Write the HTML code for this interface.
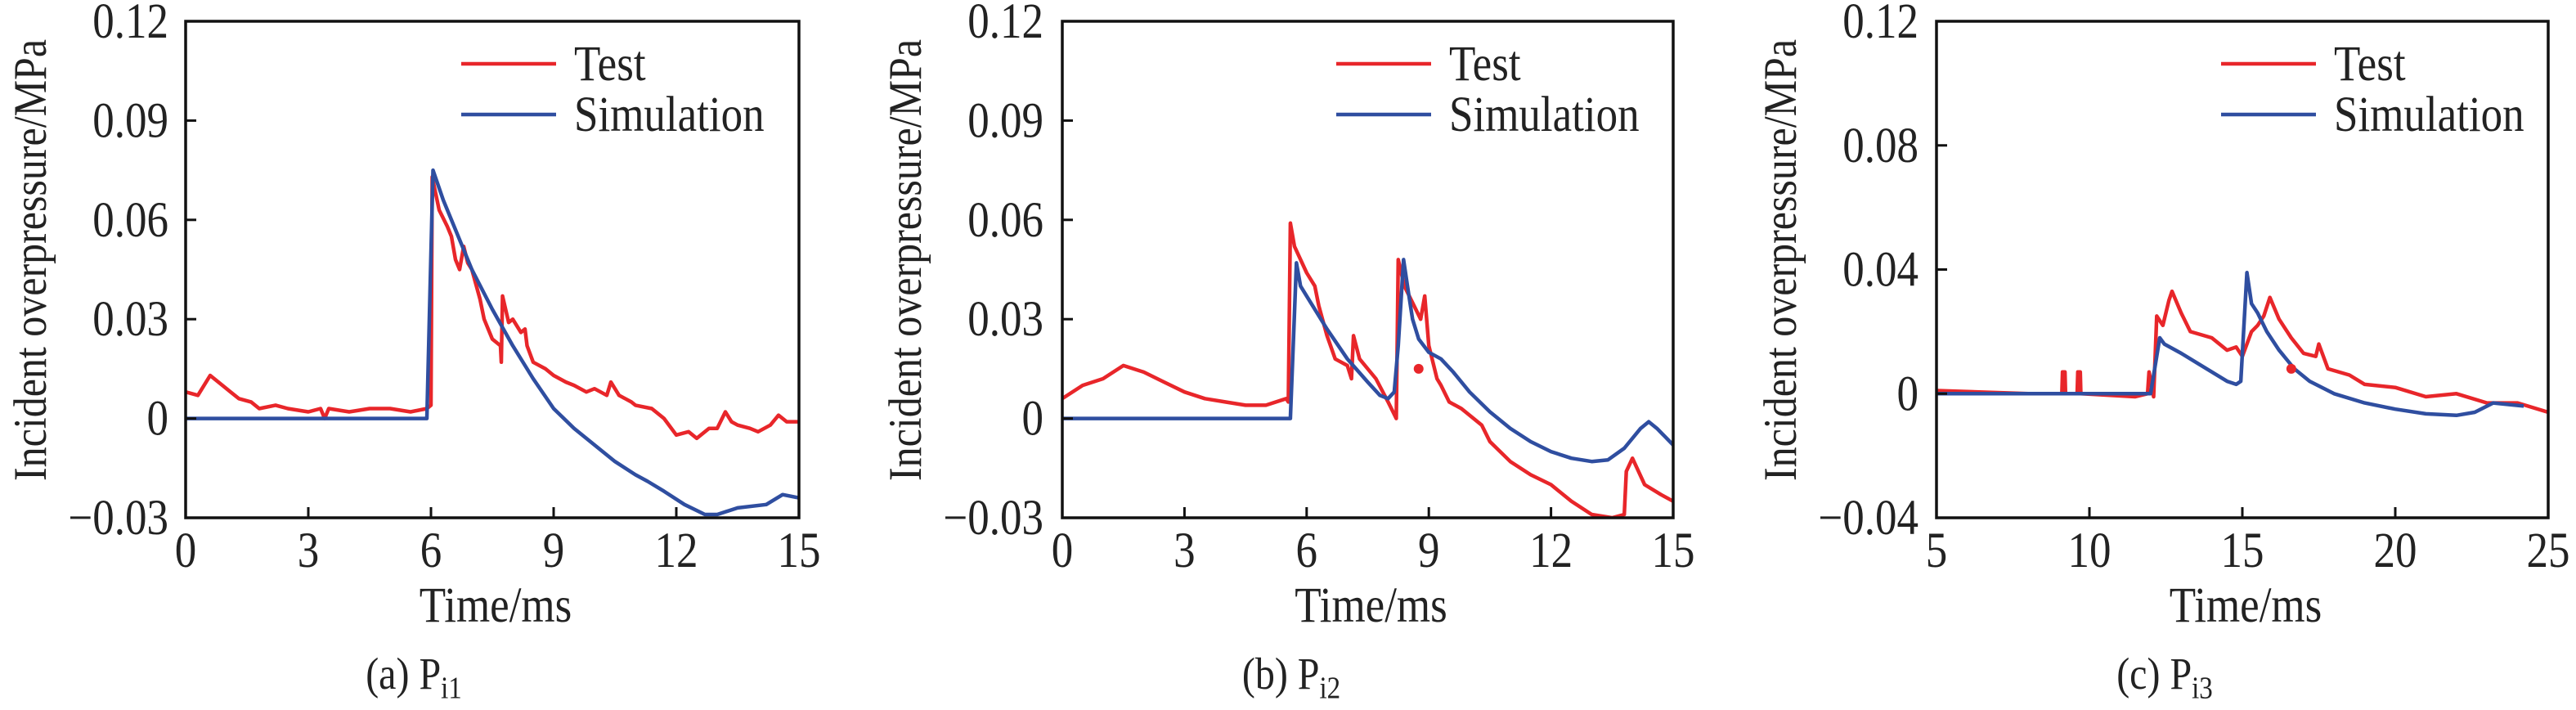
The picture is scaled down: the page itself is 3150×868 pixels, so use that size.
<!DOCTYPE html>
<html><head><meta charset="utf-8"><style>
html,body{margin:0;padding:0;background:#fff;}
svg{display:block;font-family:"Liberation Serif",serif;}
</style></head><body>
<svg id="fig" width="3150" height="868" viewBox="0 0 3150 868"></svg>
<script>
// ---- Panel (a) data ----
const aTestT=[0,0.3,0.6,0.9,1.1,1.3,1.6,1.8,2.2,2.5,3.0,3.3,3.4,3.5,4.0,4.5,5.0,5.5,5.9,6.0,6.03,6.2,6.4,6.5,6.6,6.7,6.8,6.9,7.0,7.2,7.3,7.5,7.7,7.72,7.75,7.9,8.0,8.2,8.3,8.35,8.5,8.8,9.0,9.3,9.5,9.8,10.0,10.3,10.4,10.6,10.9,11.0,11.4,11.7,12.0,12.3,12.5,12.8,13.0,13.2,13.35,13.5,13.8,14.0,14.3,14.5,14.7,15.0];
const aTestV=[0.008,0.007,0.013,0.010,0.008,0.006,0.005,0.003,0.004,0.003,0.002,0.003,0.0,0.003,0.002,0.003,0.003,0.002,0.003,0.004,0.073,0.063,0.058,0.055,0.048,0.045,0.052,0.047,0.045,0.036,0.030,0.024,0.022,0.017,0.037,0.029,0.030,0.026,0.027,0.022,0.017,0.015,0.013,0.011,0.010,0.008,0.009,0.007,0.011,0.007,0.005,0.004,0.003,0.000,-0.005,-0.004,-0.006,-0.003,-0.003,0.002,-0.001,-0.002,-0.003,-0.004,-0.002,0.001,-0.001,-0.001];
const aSimT=[0,5.9,6.05,6.3,6.6,7.0,7.5,8,8.5,9,9.5,10,10.5,11,11.3,11.7,12.2,12.7,13,13.5,14.2,14.6,15];
const aSimV=[0,0,0.075,0.066,0.057,0.045,0.033,0.022,0.012,0.003,-0.003,-0.008,-0.013,-0.017,-0.019,-0.022,-0.026,-0.029,-0.029,-0.027,-0.026,-0.023,-0.024];
// ---- Panel (b) data ----
const bTestT=[0,0.5,1,1.5,2,2.5,3,3.5,4,4.5,5.0,5.5,5.55,5.6,5.7,6,6.2,6.3,6.5,6.7,7.0,7.1,7.15,7.3,7.7,8.0,8.2,8.25,8.4,8.6,8.8,8.9,9.0,9.2,9.3,9.5,9.8,10,10.3,10.5,11,11.5,12,12.5,13,13.5,13.8,13.85,14.0,14.3,14.7,15];
const bTestV=[0.006,0.010,0.012,0.016,0.014,0.011,0.008,0.006,0.005,0.004,0.004,0.006,0.005,0.059,0.052,0.044,0.040,0.034,0.025,0.018,0.016,0.012,0.025,0.018,0.012,0.005,0.000,0.048,0.040,0.035,0.030,0.037,0.022,0.012,0.010,0.005,0.003,0.001,-0.002,-0.007,-0.013,-0.017,-0.020,-0.025,-0.029,-0.030,-0.029,-0.016,-0.012,-0.020,-0.023,-0.025];
const bSimT=[0,5.6,5.75,5.85,6.0,6.5,7.0,7.5,7.8,8.0,8.15,8.25,8.38,8.5,8.6,8.75,9.0,9.3,9.6,10,10.5,11,11.5,12,12.5,13,13.4,13.8,14.2,14.4,14.6,15];
const bSimV=[0,0,0.047,0.040,0.037,0.027,0.018,0.011,0.007,0.006,0.008,0.022,0.048,0.038,0.030,0.024,0.020,0.018,0.014,0.008,0.002,-0.003,-0.007,-0.010,-0.012,-0.013,-0.0125,-0.009,-0.003,-0.001,-0.003,-0.008];
const bDot=[8.75,0.015];
// ---- Panel (c) data ----
const cTestT=[5,8,9.1,9.12,9.2,9.22,9.6,9.62,9.7,9.72,11.5,11.9,11.95,12.1,12.2,12.4,12.6,12.7,13,13.3,14,14.5,14.8,15.0,15.3,15.5,15.7,15.9,16.2,16.6,17.0,17.4,17.5,17.8,18.5,19,20,21,22,23,24,25];
const cTestV=[0.001,0.0,0,0.007,0.007,0,0,0.007,0.007,0,-0.001,0,0.007,-0.001,0.025,0.022,0.030,0.033,0.026,0.020,0.018,0.014,0.015,0.012,0.020,0.022,0.025,0.031,0.024,0.018,0.013,0.012,0.016,0.008,0.006,0.003,0.002,-0.001,0.0,-0.003,-0.003,-0.006];
const cSimT=[5,12,12.3,12.45,13,13.5,14,14.5,14.8,14.95,15.15,15.3,15.5,15.8,16.2,16.7,17.2,18,19,20,21,22,22.6,23.2,24.2];
const cSimV=[0,0,0.018,0.016,0.013,0.010,0.007,0.004,0.003,0.004,0.039,0.029,0.026,0.020,0.014,0.008,0.004,0.000,-0.003,-0.005,-0.0065,-0.007,-0.006,-0.003,-0.004];
const cDot=[16.6,0.008];
// tick labels
const abXTicks=[0,3,6,9,12,15];
const abYTicks=[-0.03,0,0.03,0.06,0.09,0.12];
const abYLabels=["\u22120.03","0","0.03","0.06","0.09","0.12"];
const cXTicks=[5,10,15,20,25];
const cYTicks=[-0.04,0,0.04,0.08,0.12];
const cYLabels=["\u22120.04","0","0.04","0.08","0.12"];

const NS="http://www.w3.org/2000/svg";
const svg=document.getElementById('fig');
function mk(tag,attrs,parent){const e=document.createElementNS(NS,tag);for(const k in attrs)e.setAttribute(k,attrs[k]);(parent||svg).appendChild(e);return e;}
function txt(parent,x,y,size,anchor,rot){
  const tf='translate('+x+','+y+')'+(rot?' rotate(-90)':'')+' scale(1,1.15)';
  return mk('text',{x:0,y:0,'font-size':size,'text-anchor':anchor,fill:'#222',transform:tf},parent);
}
const RED="#e8262a",BLUE="#2f4ea0";
function panel(p){
  const g=mk('g',{});
  
  
  const L=p.left,R=p.right,T=26,B=633;
  const sx=v=>L+(v-p.xmin)/(p.xmax-p.xmin)*(R-L);
  const sy=v=>B-(v-p.ymin)/(p.ymax-p.ymin)*(B-T);
  const clip=mk('clipPath',{id:'clip'+p.id},g);
  mk('rect',{x:L,y:T,width:R-L,height:B-T},clip);
  const path=(ts,vs,col,name)=>{
    let d='';ts.forEach((t,i)=>{d+=(i?'L':'M')+sx(t).toFixed(1)+','+sy(vs[i]).toFixed(1);});
    const e=mk('path',{d:d,fill:'none',stroke:col,'stroke-width':4.5,'stroke-linejoin':'round','clip-path':'url(#clip'+p.id+')'},g);
    
    
  };
  path(p.tt,p.tv,RED,'test-line');
  path(p.st,p.sv,BLUE,'simulation-line');
  if(p.dot){const c=mk('circle',{cx:sx(p.dot[0]),cy:sy(p.dot[1]),r:6,fill:RED},g);
    
    }
  const fr=mk('rect',{x:L,y:T,width:R-L,height:B-T,fill:'none',stroke:'#111','stroke-width':3.5},g);
  
  
  p.xt.forEach(v=>{const x=sx(v);mk('line',{x1:x,x2:x,y1:B,y2:B-13,stroke:'#111','stroke-width':3},g);
    const t=txt(g,x,693,53,'middle');t.textContent=v;
    
    });
  p.yt.forEach((v,i)=>{const y=sy(v);mk('line',{x1:L,x2:L+13,y1:y,y2:y,stroke:'#111','stroke-width':3},g);
    const t=txt(g,p.lblR,y+20,53,'end');t.textContent=p.yl[i];
    
    });
  const yt=txt(g,p.titleX+19,318,50,'middle',true);
  yt.textContent='Incident overpressure/MPa';
  
  
  const xt=txt(g,(L+R)/2+4,760,53,'middle');
  xt.textContent='Time/ms';
  
  
  const cap=txt(g,p.capX,842,48,'middle');
  cap.innerHTML='('+p.id+') P<tspan font-size="33" dy="10">i'+p.n+'</tspan>';
  
  
  const lg=[[RED,'Test',78],[BLUE,'Simulation',140]];
  lg.forEach(([c,s,y])=>{mk('line',{x1:L+p.legDx,x2:L+p.legDx+116,y1:y,y2:y,stroke:c,'stroke-width':4.5},g);
    const t=txt(g,L+p.legDx+138,y+20,53,'start');t.textContent=s;
    
    });
}
panel({id:'a',n:'1',left:227,right:977,xmin:0,xmax:15,ymin:-0.03,ymax:0.12,tt:aTestT,tv:aTestV,st:aSimT,sv:aSimV,xt:abXTicks,yt:abYTicks,yl:abYLabels,lblR:206,titleX:37,capX:506,legDx:337});
panel({id:'b',n:'2',left:1299,right:2046,xmin:0,xmax:15,ymin:-0.03,ymax:0.12,tt:bTestT,tv:bTestV,st:bSimT,sv:bSimV,dot:bDot,xt:abXTicks,yt:abYTicks,yl:abYLabels,lblR:1276,titleX:1107,capX:1579,legDx:335});
panel({id:'c',n:'3',left:2368,right:3116,xmin:5,xmax:25,ymin:-0.04,ymax:0.12,tt:cTestT,tv:cTestV,st:cSimT,sv:cSimV,dot:cDot,xt:cXTicks,yt:cYTicks,yl:cYLabels,lblR:2346,titleX:2177,capX:2647,legDx:348});
</script>
</body></html>
